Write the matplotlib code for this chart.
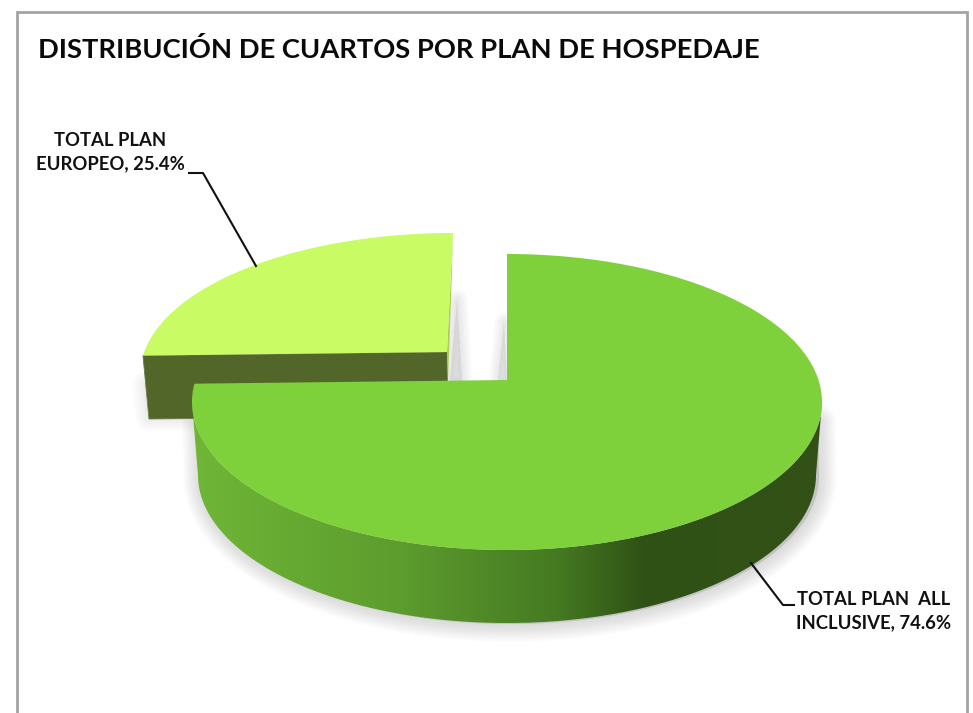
import numpy as np
import matplotlib
matplotlib.use('Agg')
import matplotlib.pyplot as plt
from matplotlib.patches import Polygon
from matplotlib.colors import LinearSegmentedColormap

categories = ['TOTAL PLAN  ALL\nINCLUSIVE', 'TOTAL PLAN\nEUROPEO']
shares = [74.6, 25.4]
title = 'DISTRIBUCIÓN DE CUARTOS POR PLAN DE HOSPEDAJE'

plt.rcParams['font.family'] = ['Lato', 'DejaVu Sans']

fig = plt.figure(figsize=(9.73, 7.13), dpi=100)
ax = fig.add_axes([0, 0, 1, 1])
ax.set_xlim(0, 973)
ax.set_ylim(713, 0)
ax.axis('off')

K = 0.47  # vertical squash of the tilted pie


def rim_angle(theta, apex, center, rx, ry, skew=0.0):
    # where the ray of a slice edge leaves the apex and hits the rim ellipse
    t = np.radians(theta)
    dx = np.cos(t) + skew * np.sin(t)
    dy = -K * np.sin(t)
    ox = (apex[0] - center[0]) / rx
    oy = (apex[1] - center[1]) / ry
    a = (dx / rx) ** 2 + (dy / ry) ** 2
    b = 2 * (ox * dx / rx + oy * dy / ry)
    c = ox ** 2 + oy ** 2 - 1
    s = (-b + np.sqrt(b * b - 4 * a * c)) / (2 * a)
    x, y = apex[0] + s * dx, apex[1] + s * dy
    return np.degrees(np.arctan2(-(y - center[1]) / ry, (x - center[0]) / rx))


def arc(center, rx, ry, a0, a1, n=300):
    p = np.radians(np.linspace(a0, a1, n))
    return np.column_stack([center[0] + rx * np.cos(p), center[1] - ry * np.sin(p)])


def shadow(verts, zorder=1, width=24, alpha=0.016):
    for lw in range(width, 0, -2):
        ax.add_patch(Polygon(verts, closed=True, fc='#808080', ec='#808080', lw=lw,
                             alpha=alpha, joinstyle='round', zorder=zorder))


sweep_main = shares[0] / sum(shares) * 360
end_angle = 90 - sweep_main

# small slice (pulled away from the main one)
apex_s = (447, 352)
center_s = (453, 375)
rx_s, ry_s = 313, 142
skew_s = 0.0237
a_top = rim_angle(90, apex_s, center_s, rx_s, ry_s, skew_s)
a_left = rim_angle(end_angle, apex_s, center_s, rx_s, ry_s, skew_s)
rim_s = arc(center_s, rx_s, ry_s, a_top, a_left)
top_s = np.vstack([[apex_s], rim_s])
depth_s = 64
front_s = [tuple(rim_s[-1]), apex_s, (apex_s[0] + 1, apex_s[1] + depth_s), (149, 355 + depth_s)]
back_s = [tuple(rim_s[0]), apex_s, (apex_s[0] + 1, apex_s[1] + 30), (451, 300)]

shadow(np.array([(147, 385), (300, 385), (300, 416), (150, 416)]), zorder=1, width=22)
# faint shadows inside the gap between the slices
shadow(np.array([(457, 300), (450, 381), (462, 381)]), zorder=1, width=16, alpha=0.02)
shadow(np.array([(504, 322), (498, 381), (507, 381)]), zorder=1, width=14, alpha=0.02)
ax.add_patch(Polygon(front_s, closed=True, fc='#53662a', ec='#6b7a4a', lw=0.6, zorder=3))
ax.add_patch(Polygon(back_s, closed=True, fc='#a9d04f', ec='none', zorder=3))
ax.add_patch(Polygon(top_s, closed=True, fc='#c8fb64', ec='none', zorder=4))

# main slice
apex_m = (507, 380)
center_m = (507, 402)
rx_m, ry_m = 315, 148
depth_m = 73
center_b = (center_m[0], center_m[1] + depth_m)
rx_b = 309
a_end = rim_angle(end_angle, apex_m, center_m, rx_m, ry_m)
rim_m = arc(center_m, rx_m, ry_m, 90, a_end - 360 if a_end > 0 else a_end)
top_m = np.vstack([[apex_m], rim_m])

side = np.vstack([arc(center_m, rx_m, ry_m, 180, 360), arc(center_b, rx_b, ry_m, 360, 180)])
shadow(np.vstack([arc((center_b[0] + 3, center_b[1] + 1), rx_b, ry_m, 180, 360),
                  arc((center_m[0] + 2, center_m[1] + 20), rx_m - 6, 30, 0, -180)]), zorder=2,
       width=26, alpha=0.018)

side_cmap = LinearSegmentedColormap.from_list('side', [
    (0.0, '#6fb637'), (0.33, '#5d9c2e'), (0.58, '#457a22'),
    (0.72, '#2f5115'), (1.0, '#345218')])
grad = np.linspace(0, 1, 256).reshape(1, -1)
img = ax.imshow(grad, extent=[192, 822, 623, 380], cmap=side_cmap, aspect='auto', zorder=5)
img.set_clip_path(Polygon(side, closed=True, transform=ax.transData))
ax.set_xlim(0, 973)
ax.set_ylim(713, 0)
ax.add_patch(Polygon(top_m, closed=True, fc='#7fd13b', ec='none', zorder=6))

# chart frame
ax.plot([17, 17, 967, 967], [713, 12, 12, 713], color='#a3a3a3', lw=2, zorder=7,
        solid_joinstyle='miter')

# leader lines
ax.plot([189, 203, 256], [173, 173, 266], color='#111111', lw=1.5, zorder=8)
ax.plot([751, 783, 794], [563, 605, 605], color='#111111', lw=1.5, zorder=8)

# text
ax.text(38, 50, title, fontsize=19.7, fontweight='bold', color='#0a0a0a', va='center', ha='left')
lab = [f'{c}, {v:.1f}%' for c, v in zip(categories, shares)]
ax.text(873.5, 611, lab[0], fontsize=13.3, fontweight='bold', color='#111111', ha='center', va='center',
        linespacing=1.46)
ax.text(110, 152, lab[1], fontsize=13.3, fontweight='bold', color='#111111', ha='center', va='center',
        linespacing=1.46)

fig.savefig('out.png', dpi=100)
